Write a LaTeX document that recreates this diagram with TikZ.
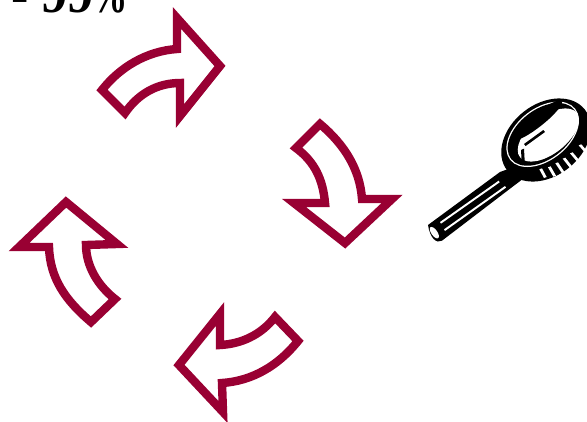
\documentclass[tikz,border=0pt]{standalone}
\usepackage{fontspec}
\setmainfont{Liberation Serif}
\definecolor{wine}{HTML}{990033}
\tikzset{
  bentarrow/.style={draw=wine,line width=8.4pt,fill=white,miter limit=10,line join=miter},
  blk/.style={fill=black,draw=none},
  wht/.style={fill=white,draw=none},
}
\begin{document}
\begin{tikzpicture}[x=1pt,y=-1pt]
\useasboundingbox (0,0) rectangle (587,421);
\clip (0,0) rectangle (587,421);
\node[anchor=base west,inner sep=0pt,font=\bfseries\fontsize{52}{52}\selectfont] (pct) at (11,12.5) {- 99\hspace{-3pt}\scalebox{.72}[1]{\%}};
% arrows
\draw[bentarrow] (177,49) -- (177,18) -- (220,66) -- (180,116) -- (180,83)
  .. controls (157,83) and (138,94) .. (125,113) -- (102,90)
  .. controls (120,67) and (147,51) .. (177,49) -- cycle;
\draw[bentarrow] (320,124) .. controls (345,145) and (360,170) .. (362,199) -- (392,199)
  -- (345,243) -- (294,203) -- (325,203)
  .. controls (323,180) and (315,162) .. (296,148) -- cycle;
\draw[bentarrow] (66,202) -- (117,244) -- (86,245)
  .. controls (86,265) and (97,285) .. (115,299) -- (91,322)
  .. controls (65,300) and (50,278) .. (49,247) -- (19,247) -- cycle;
\draw[bentarrow] (220,314) -- (220,345)
  .. controls (241,344) and (261,335) .. (275,317) -- (298,341)
  .. controls (278,366) and (252,381) .. (222,383) -- (223,412) -- (179,365) -- cycle;
% magnifier
\begin{scope}[shift={(420,90)},scale=1/3]
  % handle
  \fill[blk] (24,405) -- (240,246) -- (262,238) -- (300,235) -- (315,262) -- (278,290) -- (66,452)
     .. controls (50,462) and (30,445) .. (24,405) -- cycle;
  \fill[wht] (60,396) -- (236,272) -- (239,277) -- (63,401) -- cycle;
  \fill[wht] (72,418) -- (255,288) -- (258,293) -- (75,423) -- cycle;
  \fill[wht,rotate around={35:(43,428)}] (43,428) ellipse (9 and 20);
  % lens body
  \fill[blk,rotate around={38:(378,150)}] (378,150) ellipse (148 and 108);
  \fill[wht,rotate around={38:(368,133)}] (368,133) ellipse (124 and 78);
  \fill[blk,rotate around={38:(368,133)}] (368,133) ellipse (120 and 74);
  \fill[wht,rotate around={38:(385,135)}] (385,135) ellipse (108 and 56);
  \fill[blk,rotate around={38:(350,92)}] (350,92) ellipse (95 and 20);
  \fill[blk] (312,162) -- (370,120) -- (375,126) -- (317,168) -- cycle;
  \fill[blk] (303,180) -- (312,176) -- (314,212) -- (305,214) -- cycle;
  % knurl
  \foreach \a/\b/\c/\d in {358/238/372/264, 384/232/400/260, 406/220/426/250, 428/206/450/234, 450/190/472/216, 476/166/495/188}
    \fill[wht] (\a,\b) -- (\a+8,\b-3) -- (\c+8,\d-3) -- (\c,\d) -- cycle;
\end{scope}
\end{tikzpicture}
\end{document}
